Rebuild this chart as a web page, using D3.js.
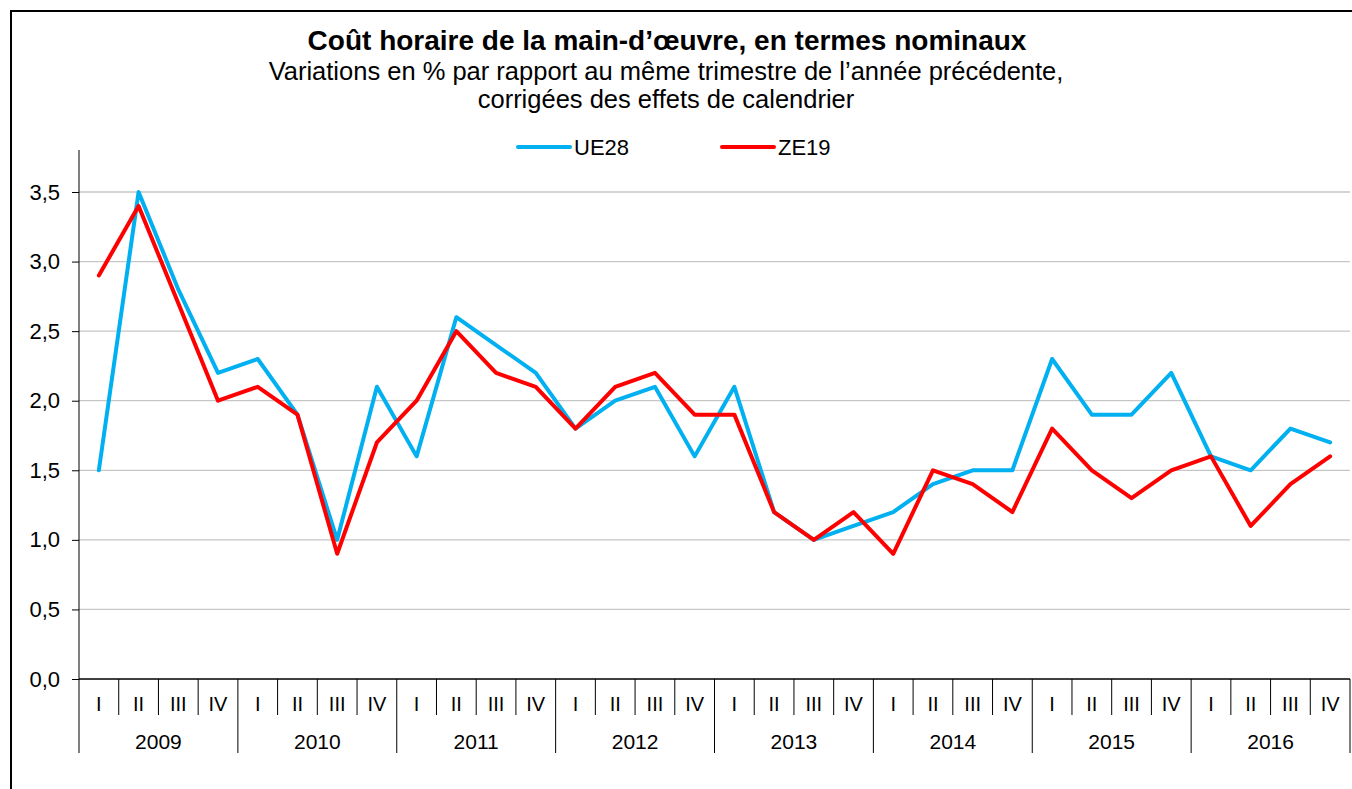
<!DOCTYPE html>
<html><head><meta charset="utf-8">
<script src="https://cdn.jsdelivr.net/npm/d3@7"></script>
<style>body{margin:0;background:#fff}svg{display:block;font-family:Arial,"Liberation Sans",sans-serif}</style>
</head><body>
<script>
const years = ["2009","2010","2011","2012","2013","2014","2015","2016"];
const quarters = ["I","II","III","IV"];
const ue28 = [1.5,3.5,2.8,2.2, 2.3,1.9,1.0,2.1, 1.6,2.6,2.4,2.2, 1.8,2.0,2.1,1.6, 2.1,1.2,1.0,1.1, 1.2,1.4,1.5,1.5, 2.3,1.9,1.9,2.2, 1.6,1.5,1.8,1.7];
const ze19 = [2.9,3.4,2.7,2.0, 2.1,1.9,0.9,1.7, 2.0,2.5,2.2,2.1, 1.8,2.1,2.2,1.9, 1.9,1.2,1.0,1.2, 0.9,1.5,1.4,1.2, 1.8,1.5,1.3,1.5, 1.6,1.1,1.4,1.6];
const yTicks = [0,0.5,1,1.5,2,2.5,3,3.5];
const seriesNames = ["UE28","ZE19"];
const colors = ["#00b0f0","#ff0000"];

const W=1352,H=789;
const svg=d3.select("body").append("svg").attr("width",W).attr("height",H);
// frame
svg.append("path").attr("d",`M11,${H+5}V11H${W+5}`).attr("fill","none").attr("stroke","#000").attr("stroke-width",2);

const cats=[];years.forEach(y=>quarters.forEach(q=>cats.push(y+"-"+q)));
const x=d3.scaleBand().domain(cats).range([79,1350]);
const y=d3.scaleLinear().domain([0,3.5]).range([679,192]);

// gridlines
svg.append("g").selectAll("line").data(yTicks.filter(d=>d>0)).join("line")
 .attr("x1",79).attr("x2",1350).attr("y1",d=>y(d)).attr("y2",d=>y(d))
 .attr("stroke","#c6c6c6").attr("stroke-width",1.3);

// y axis
const ya=svg.append("g").attr("transform","translate(79,0)")
 .call(d3.axisLeft(y).tickValues(yTicks).tickSize(7).tickPadding(12).tickFormat(d=>d3.format(".1f")(d).replace(".",",")));
ya.select(".domain").attr("d","M0,150V679").attr("stroke","#000");
ya.selectAll("text").attr("font-size",22).attr("fill","#000").attr("font-family","Arial,'Liberation Sans',sans-serif");

// x axis baseline
svg.append("line").attr("x1",79).attr("x2",1350).attr("y1",679).attr("y2",679).attr("stroke","#000").attr("stroke-width",1.3);
// quarter separators
const bw=x.bandwidth();
svg.append("g").selectAll("line").data(d3.range(cats.length+1)).join("line")
 .attr("x1",i=>79+i*bw).attr("x2",i=>79+i*bw).attr("y1",679).attr("y2",i=>i%4===0?753:715)
 .attr("stroke","#000").attr("stroke-width",1);
svg.append("g").selectAll("text").data(cats).join("text")
 .attr("x",d=>x(d)+bw/2).attr("y",711).attr("text-anchor","middle").attr("font-size",20)
 .text(d=>d.split("-")[1]);
svg.append("g").selectAll("text").data(years).join("text")
 .attr("x",(d)=>x(d+"-I")+2*bw).attr("y",749).attr("text-anchor","middle").attr("font-size",21)
 .text(d=>d);

// lines
const line=d3.line().x((d,i)=>x(cats[i])+bw/2).y(d=>y(d));
[ue28,ze19].forEach((s,k)=>{
 svg.append("path").datum(s).attr("d",line).attr("fill","none").attr("stroke",colors[k])
  .attr("stroke-width",4).attr("stroke-linejoin","round").attr("stroke-linecap","round");
});

// titles
svg.append("text").attr("x",667).attr("y",50).attr("text-anchor","middle").attr("font-size",28).attr("font-weight","bold")
 .text("Coût horaire de la main-d’œuvre, en termes nominaux");
svg.append("text").attr("x",666).attr("y",80).attr("text-anchor","middle").attr("font-size",25.5)
 .text("Variations en % par rapport au même trimestre de l’année précédente,");
svg.append("text").attr("x",666).attr("y",108).attr("text-anchor","middle").attr("font-size",25.5)
 .text("corrigées des effets de calendrier");

// legend
const lx=[518,722];
seriesNames.forEach((n,k)=>{
 svg.append("line").attr("x1",lx[k]).attr("x2",lx[k]+52).attr("y1",147).attr("y2",147)
  .attr("stroke",colors[k]).attr("stroke-width",4).attr("stroke-linecap","round");
 svg.append("text").attr("x",lx[k]+56).attr("y",155).attr("font-size",22).text(n);
});
</script>
</body></html>
